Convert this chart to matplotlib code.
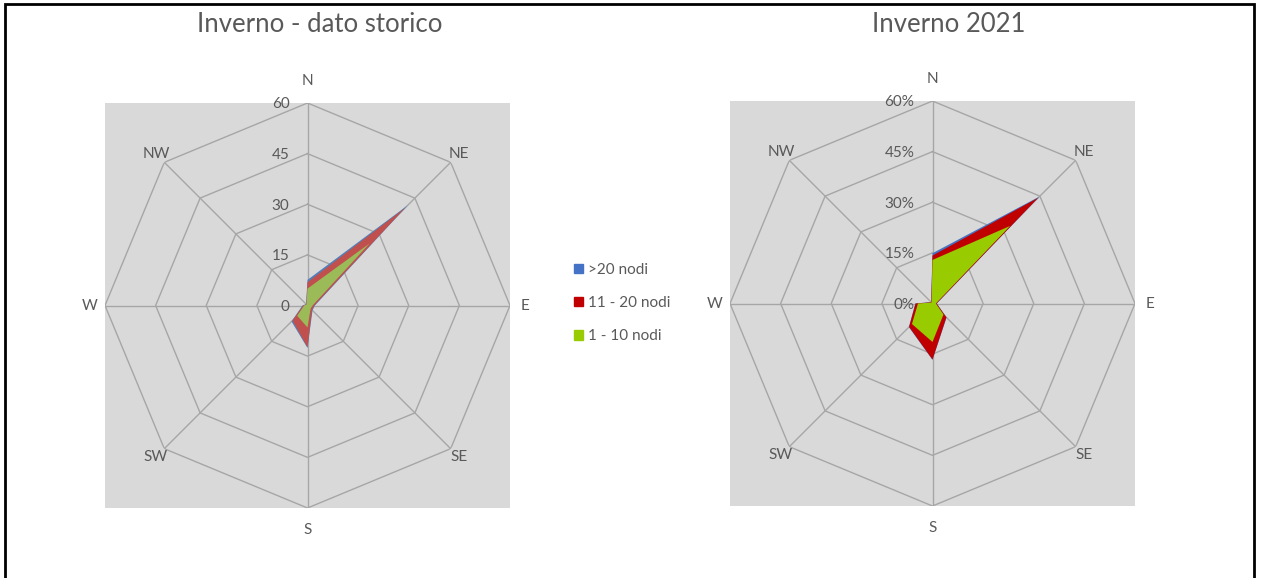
import numpy as np
import matplotlib.pyplot as plt
from matplotlib.patches import Patch, Rectangle

plt.rcParams['font.family'] = ['Lato', 'DejaVu Sans']

# direzioni del vento e livelli della griglia
directions = ['N', 'NE', 'E', 'SE', 'S', 'SW', 'W', 'NW']
ring_levels = [0, 15, 30, 45, 60]

# Inverno - dato storico
storico_oltre20 = [7.6, 42.0, 2.2, 2.1, 12.6, 6.7, 1.5, 0.6]
storico_11_20 = [6.9, 41.0, 2.0, 1.9, 12.4, 6.3, 1.3, 0.5]
storico_1_10 = [5.0, 26.0, 1.5, 1.3, 6.5, 4.3, 1.0, 0.4]

# Inverno 2021 (%)
inv2021_oltre20 = [14.9, 44.8, 1.3, 5.9, 16.7, 9.9, 5.1, 0.6]
inv2021_11_20 = [14.2, 44.3, 1.2, 5.8, 16.6, 9.8, 5.0, 0.5]
inv2021_1_10 = [12.9, 32.5, 1.0, 4.6, 11.4, 8.6, 4.3, 0.4]

series_labels = ['>20 nodi', '11 - 20 nodi', '1 - 10 nodi']
colors_storico = ['#4F81BD', '#C0504D', '#9BBB59']
colors_2021 = ['#4472C4', '#C00000', '#99CC00']

W, H = 1261, 578
fig = plt.figure(figsize=(W / 100, H / 100), dpi=100)

text_col = '#595959'
grid_col = '#a6a6a6'


def radar(left_px, top_px, series, colors, fmt):
    size = 405
    rect = [left_px / W, (H - top_px - size) / H, size / W, size / H]
    bg = fig.add_axes(rect)
    bg.set_facecolor('#d9d9d9')
    bg.set_xticks([])
    bg.set_yticks([])
    for s in bg.spines.values():
        s.set_visible(False)

    ax = fig.add_axes(rect, projection='polar')
    ax.set_theta_zero_location('N')
    ax.set_theta_direction(-1)
    ax.set_ylim(0, ring_levels[-1])
    ax.grid(False)
    ax.set_xticks([])
    ax.set_yticks([])
    ax.spines['polar'].set_visible(False)
    ax.patch.set_alpha(0)

    theta = np.deg2rad(np.arange(len(directions)) * 45)
    theta_c = np.append(theta, theta[0])
    for lv in ring_levels[1:]:
        ax.plot(theta_c, [lv] * len(theta_c), color=grid_col, lw=1, zorder=1)
    for t in theta:
        ax.plot([t, t], [0, ring_levels[-1]], color=grid_col, lw=1, zorder=1)

    for vals, c in zip(series, colors):
        ax.fill(theta, vals, color=c, lw=0, zorder=3)

    for lv in ring_levels:
        ax.annotate(fmt(lv), xy=(0, lv), xytext=(-13, -1), textcoords='offset points',
                    ha='right', va='center', color=text_col, fontsize=11)
    for t, d in zip(theta, directions):
        if d in ('N', 'S'):
            r = 66.5
        elif d in ('E', 'W'):
            r = 64.5
        else:
            r = 63.5
        ax.text(t, r, d, ha='center', va='center', color=text_col, fontsize=11, clip_on=False)
    return ax


radar(105, 103, [storico_oltre20, storico_11_20, storico_1_10], colors_storico,
      lambda v: '%d' % v)
radar(730, 101, [inv2021_oltre20, inv2021_11_20, inv2021_1_10], colors_2021,
      lambda v: '%d%%' % v)

fig.text(320 / W, 1 - 25 / H, 'Inverno - dato storico', ha='center', va='center',
         fontsize=18.5, color=text_col)
fig.text(949 / W, 1 - 24 / H, 'Inverno 2021', ha='center', va='center',
         fontsize=18.5, color=text_col)

handles = [Patch(color=c) for c in colors_2021]
fig.legend(handles, series_labels, loc='center left', bbox_to_anchor=(560 / W, 1 - 303 / H),
           frameon=False, fontsize=11, labelcolor=text_col, handlelength=0.6, handleheight=0.6,
           handletextpad=0.35, labelspacing=1.25)

# cornice nera esterna
fig.add_artist(Rectangle((5 / W, -0.05), 1249 / W, 1.05 - 4 / H, transform=fig.transFigure,
                         fill=False, edgecolor='black', lw=2))

fig.savefig('out.png', dpi=100)
